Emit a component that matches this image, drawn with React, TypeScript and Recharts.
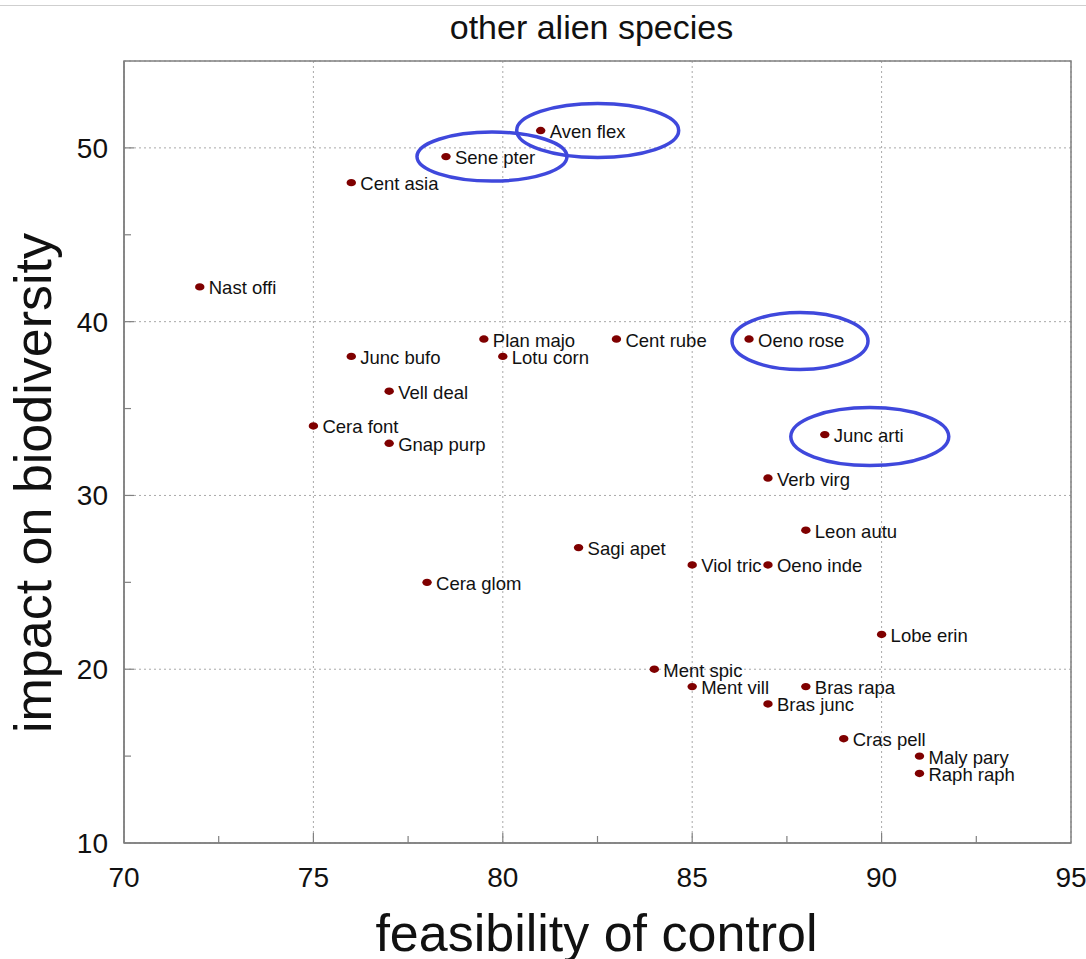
import React from 'react';
import { ScatterChart, Scatter, XAxis, YAxis, CartesianGrid, ReferenceArea, Label } from 'recharts';

const speciesNames = [
  'Aven flex', 'Sene pter', 'Cent asia', 'Nast offi', 'Plan majo', 'Lotu corn', 'Cent rube',
  'Oeno rose', 'Junc bufo', 'Vell deal', 'Cera font', 'Gnap purp', 'Junc arti', 'Verb virg',
  'Leon autu', 'Sagi apet', 'Viol tric', 'Oeno inde', 'Cera glom', 'Lobe erin', 'Ment spic',
  'Ment vill', 'Bras rapa', 'Bras junc', 'Cras pell', 'Maly pary', 'Raph raph',
];
const feasibility = [81, 78.5, 76, 72, 79.5, 80, 83, 86.5, 76, 77, 75, 77, 88.5, 87, 88, 82, 85, 87, 78, 90, 84, 85, 88, 87, 89, 91, 91];
const impact = [51, 49.5, 48, 42, 39, 38, 39, 39, 38, 36, 34, 33, 33.5, 31, 28, 27, 26, 26, 25, 22, 20, 19, 19, 18, 16, 15, 14];

const highlighted = ['Aven flex', 'Sene pter', 'Oeno rose', 'Junc arti'];

const xTicks = [70, 75, 80, 85, 90, 95];
const yTicks = [10, 20, 30, 40, 50];
const xMinorTicks = [72.5, 77.5, 82.5, 87.5, 92.5];
const yMinorTicks = [15, 25, 35, 45];
const xDomain = [70, 95];
const yDomain = [10, 55];

const titleText = 'other alien species';
const xLabelText = 'feasibility of control';
const yLabelText = 'impact on biodiversity';

// styling for the hand-drawn highlight ellipses (pixel offsets/radii)
const ellipseStyle: Record<string, { dx: number; dy: number; rx: number; ry: number }> = {
  'Aven flex': { dx: 57, dy: 0, rx: 81, ry: 27 },
  'Sene pter': { dx: 46, dy: 0, rx: 75, ry: 24.5 },
  'Oeno rose': { dx: 51, dy: 2, rx: 68, ry: 28.5 },
  'Junc arti': { dx: 45, dy: 2, rx: 79, ry: 29 },
};

const FONT = '"Liberation Sans", Arial, Helvetica, sans-serif';

const points = speciesNames.map((name, i) => ({ name, x: feasibility[i], y: impact[i] }));
const highlightPoints = points.filter((p) => highlighted.includes(p.name));
const xTickPoints = [...xMinorTicks.map((v) => ({ x: v, y: yDomain[0], major: false })), ...xTicks.slice(1, -1).map((v) => ({ x: v, y: yDomain[0], major: true }))];
const yTickPoints = [...yMinorTicks.map((v) => ({ x: xDomain[0], y: v, major: false })), ...yTicks.slice(1).map((v) => ({ x: xDomain[0], y: v, major: true }))];

const PointShape = (props: any) => {
  const { cx, cy, payload } = props;
  return (
    <g>
      <ellipse cx={cx} cy={cy} rx={4.7} ry={3.7} fill="#7f0000" />
      <text x={cx + 9} y={cy + 7.5} fontSize={18.5} fontFamily={FONT} fill="#111">
        {payload.name}
      </text>
    </g>
  );
};

const EllipseShape = (props: any) => {
  const { cx, cy, payload } = props;
  const s = ellipseStyle[payload.name];
  return <ellipse cx={cx + s.dx} cy={cy + s.dy} rx={s.rx} ry={s.ry} fill="none" stroke="#3f48dc" strokeWidth={3.5} />;
};

const XTickShape = (props: any) => {
  const { cx, cy, payload } = props;
  const len = payload.major ? 10 : 7;
  return <line x1={cx} y1={cy} x2={cx} y2={cy - len} stroke="#808080" strokeWidth={1.2} />;
};

const YTickShape = (props: any) => {
  const { cx, cy, payload } = props;
  const len = payload.major ? 10 : 7;
  return <line x1={cx} y1={cy} x2={cx + len} y2={cy} stroke="#808080" strokeWidth={1.2} />;
};

export default function App() {
  return (
    <div style={{ position: 'absolute', left: 0, top: 0, width: 1086, height: 959, background: '#fff', overflow: 'hidden' }}>
      <div style={{ position: 'absolute', left: 0, top: 5, width: 1086, height: 1, background: '#cfcfcf' }} />
      <div
        style={{
          position: 'absolute', left: 124, top: 10, width: 935, textAlign: 'center',
          fontFamily: FONT, fontSize: 34, lineHeight: '34px', color: '#111',
        }}
      >
        {titleText}
      </div>
      <ScatterChart width={1086} height={959} margin={{ top: 61, right: 15, left: 0, bottom: 0 }}>
        <CartesianGrid stroke="#a8a8a8" strokeDasharray="2 3" strokeWidth={1} />
        <XAxis
          type="number"
          dataKey="x"
          domain={xDomain}
          ticks={xTicks}
          height={116}
          tickLine={false}
          tickSize={6}
          tickMargin={18}
          axisLine={{ stroke: '#808080', strokeWidth: 1.5 }}
          tick={{ fontSize: 28, fill: '#111', fontFamily: FONT }}
          allowDataOverflow
        >
          <Label
            content={(p: any) => {
              const vb = p.viewBox || { x: 124, y: 843, width: 947, height: 116 };
              const x = vb.x + vb.width / 2 - 1;
              const y = vb.y + 108;
              return (
                <text x={x} y={y} textAnchor="middle" fontSize={52} fontFamily={FONT} fill="#111">
                  {xLabelText}
                </text>
              );
            }}
          />
        </XAxis>
        <YAxis
          type="number"
          dataKey="y"
          domain={yDomain}
          ticks={yTicks}
          width={124}
          tickLine={false}
          tickSize={6}
          tickMargin={10}
          axisLine={{ stroke: '#808080', strokeWidth: 1.5 }}
          tick={{ fontSize: 28, fill: '#111', fontFamily: FONT }}
          allowDataOverflow
        >
          <Label
            content={(p: any) => {
              const vb = p.viewBox || { x: 0, y: 61, width: 124, height: 782 };
              const x = vb.x + 51;
              const y = vb.y + vb.height / 2 + 31;
              return (
                <text x={x} y={y} transform={`rotate(-90 ${x} ${y})`} textAnchor="middle" fontSize={52} fontFamily={FONT} fill="#111">
                  {yLabelText}
                </text>
              );
            }}
          />
        </YAxis>
        <ReferenceArea x1={xDomain[0]} x2={xDomain[1]} y1={yDomain[0]} y2={yDomain[1]} fill="none" fillOpacity={0} stroke="#808080" strokeWidth={1.5} />
        <Scatter data={xTickPoints} shape={XTickShape} isAnimationActive={false} />
        <Scatter data={yTickPoints} shape={YTickShape} isAnimationActive={false} />
        <Scatter data={points} shape={PointShape} isAnimationActive={false} />
        <Scatter data={highlightPoints} shape={EllipseShape} isAnimationActive={false} />
      </ScatterChart>
    </div>
  );
}
